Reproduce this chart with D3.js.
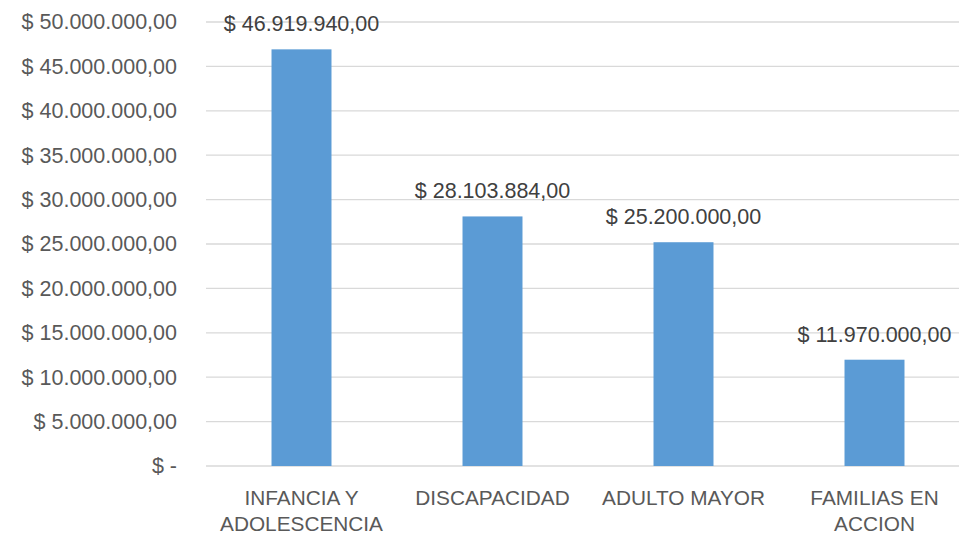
<!DOCTYPE html>
<html>
<head>
<meta charset="utf-8">
<script src="https://cdn.jsdelivr.net/npm/d3@7"></script>
<style>
  body { margin: 0; background: #fff; }
  text { font-family: "Liberation Sans", Arial, sans-serif; }
</style>
</head>
<body>
<svg id="chart" width="959" height="536"></svg>
<script>
const categories = ["INFANCIA Y ADOLESCENCIA", "DISCAPACIDAD", "ADULTO MAYOR", "FAMILIAS EN ACCION"];
const values = [46919940, 28103884, 25200000, 11970000];
const yTicks = [0, 5e6, 10e6, 15e6, 20e6, 25e6, 30e6, 35e6, 40e6, 45e6, 50e6];

const width = 959, height = 536;
const margin = { top: 22, left: 206, bottom: 70 };
const plotWidth = 764; // plot runs past the right edge, as in the source

const locale = d3.formatLocale({
  decimal: ",",
  thousands: ".",
  grouping: [3],
  currency: ["$ ", ""]
});
const money = (v) => (v === 0 ? "$ -" : locale.format("$,.2f")(v));

const svg = d3.select("#chart");

const x = d3
  .scaleBand()
  .domain(categories)
  .range([margin.left, margin.left + plotWidth])
  .paddingInner(0.686)
  .paddingOuter(0.343);

const y = d3
  .scaleLinear()
  .domain([0, 50e6])
  .range([height - margin.bottom, margin.top]);

// gridlines
svg
  .append("g")
  .selectAll("line")
  .data(yTicks)
  .join("line")
  .attr("x1", margin.left)
  .attr("x2", margin.left + plotWidth)
  .attr("y1", (d) => y(d))
  .attr("y2", (d) => y(d))
  .attr("stroke", "#d9d9d9")
  .attr("stroke-width", 1.3);

// y axis labels
const yAxis = d3.axisLeft(y).tickValues(yTicks).tickFormat(money).tickSize(0).tickPadding(29);
svg
  .append("g")
  .attr("transform", `translate(${margin.left},0)`)
  .call(yAxis)
  .call((g) => g.select(".domain").remove())
  .selectAll("text")
  .attr("font-size", 21.5)
  .attr("font-family", "Liberation Sans, Arial, sans-serif")
  .attr("fill", "#595959");

// bars
svg
  .append("g")
  .selectAll("rect")
  .data(values)
  .join("rect")
  .attr("x", (d, i) => x(categories[i]))
  .attr("y", (d) => y(d))
  .attr("width", x.bandwidth())
  .attr("height", (d) => y(0) - y(d))
  .attr("fill", "#5b9bd5");

// data labels
svg
  .append("g")
  .selectAll("text")
  .data(values)
  .join("text")
  .attr("x", (d, i) => x(categories[i]) + x.bandwidth() / 2)
  .attr("y", (d) => y(d) - 18)
  .attr("text-anchor", "middle")
  .attr("font-size", 21.5)
  .attr("fill", "#404040")
  .text(money);

// category labels, wrapped
const xAxis = d3.axisBottom(x).tickSize(0).tickPadding(0);
svg
  .append("g")
  .attr("transform", `translate(0,${y(0)})`)
  .call(xAxis)
  .call((g) => g.select(".domain").remove())
  .selectAll("text")
  .attr("font-size", 20.8)
  .attr("font-family", "Liberation Sans, Arial, sans-serif")
  .attr("fill", "#595959")
  .attr("dy", null)
  .attr("y", 0)
  .each(function (d) {
    const text = d3.select(this);
    const words = d.split(" ");
    text.text(null);
    let lines = [[]];
    let probe = text.append("tspan");
    words.forEach((w) => {
      const cur = lines[lines.length - 1];
      probe.text(cur.concat(w).join(" "));
      if (cur.length && probe.node().getComputedTextLength() > 175) lines.push([w]);
      else cur.push(w);
    });
    probe.remove();
    lines.forEach((l, i) => {
      text
        .append("tspan")
        .attr("x", 0)
        .attr("y", 39 + i * 26)
        .text(l.join(" "));
    });
  });
</script>
</body>
</html>
